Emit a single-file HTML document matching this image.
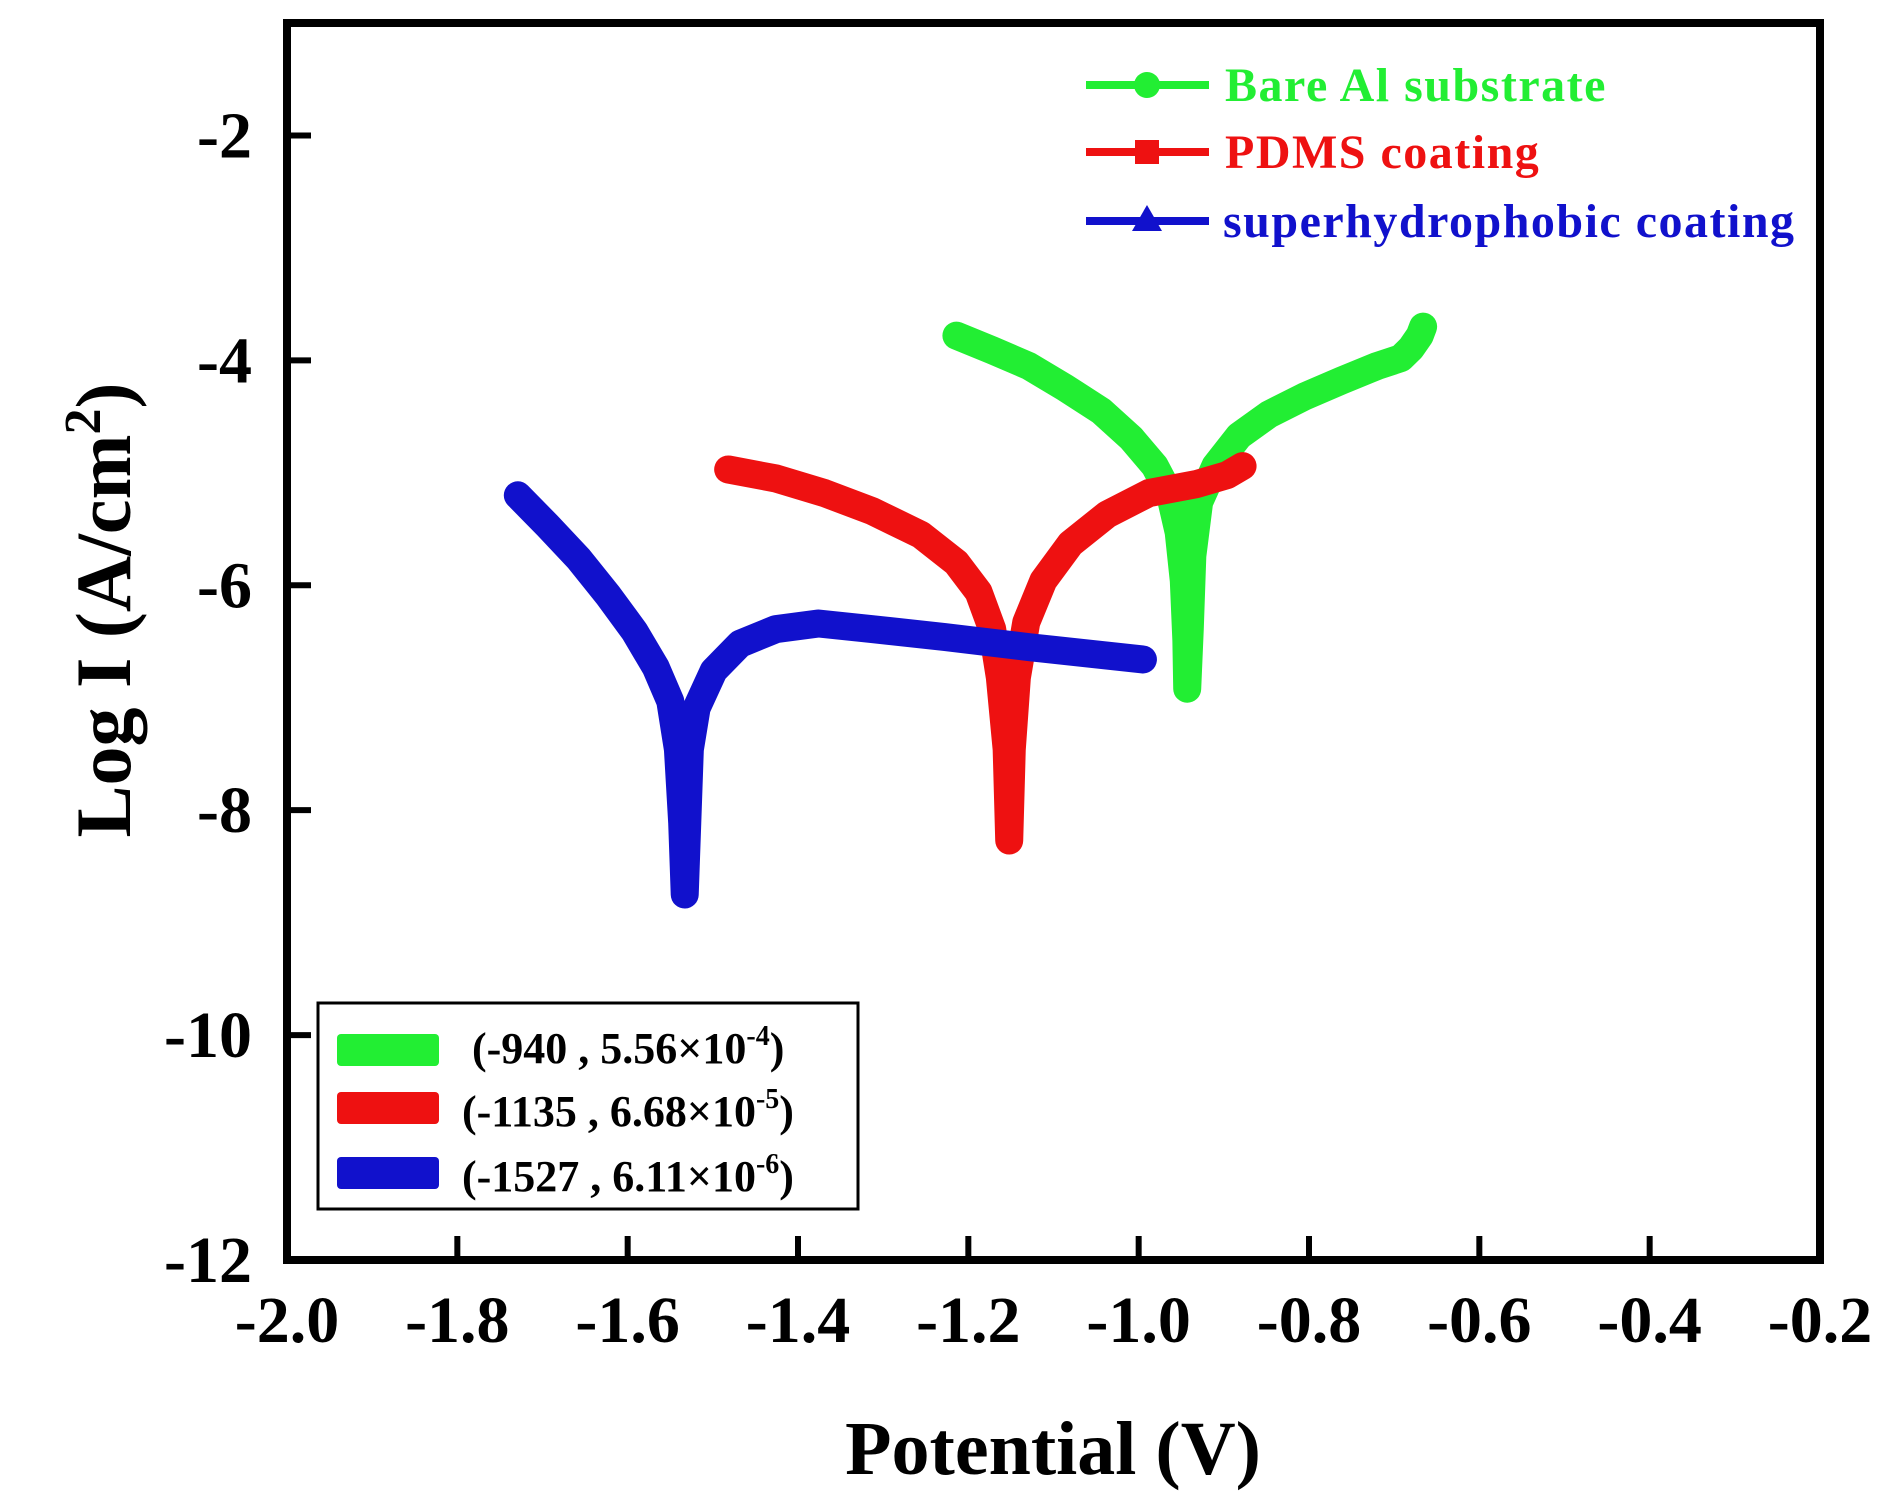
<!DOCTYPE html>
<html><head><meta charset="utf-8"><style>
html,body{margin:0;padding:0;background:#fff;}
svg text{font-family:"Liberation Serif",serif;font-weight:bold;}
</style></head><body>
<svg id="chart" width="1895" height="1499" viewBox="0 0 1895 1499" xmlns="http://www.w3.org/2000/svg">
<g id="series"></g>
<rect x="287" y="23" width="1533" height="1237" fill="none" stroke="#000" stroke-width="8"/>
<g id="axes"></g>
<text x="1053" y="1474" font-size="76" text-anchor="middle">Potential (V)</text>
<text transform="translate(130,610) rotate(-90)" font-size="78" text-anchor="middle">Log I (A/cm<tspan font-size="52" dy="-30">2</tspan><tspan dy="30">)</tspan></text>
<g>
 <line x1="1086" y1="85" x2="1209" y2="85" stroke="#22ee33" stroke-width="8"/><circle cx="1147" cy="85" r="13" fill="#22ee33"/>
 <text x="1225" y="101" font-size="48" letter-spacing="1.5" fill="#22ee33">Bare Al substrate</text>
 <line x1="1086" y1="152" x2="1209" y2="152" stroke="#ee1111" stroke-width="8"/><rect x="1135" y="140" width="24" height="24" fill="#ee1111"/>
 <text x="1225" y="168" font-size="48" letter-spacing="1.5" fill="#ee1111">PDMS coating</text>
 <line x1="1086" y1="221" x2="1209" y2="221" stroke="#1111cc" stroke-width="8"/><polygon points="1147,205 1162,231 1132,231" fill="#1111cc"/>
 <text x="1223" y="237" font-size="48" letter-spacing="1.5" fill="#1111cc">superhydrophobic coating</text>
</g>
<g>
 <rect x="318" y="1003" width="540" height="206" fill="#fff" stroke="#000" stroke-width="3"/>
 <rect x="337" y="1034" width="102" height="32" rx="4" fill="#22ee33"/>
 <rect x="337" y="1092" width="102" height="32" rx="4" fill="#ee1111"/>
 <rect x="337" y="1157" width="102" height="32" rx="4" fill="#1111cc"/>
 <text x="472" y="1063" font-size="44">(-940 , 5.56×10<tspan font-size="28" dy="-18">-4</tspan><tspan dy="18">)</tspan></text>
 <text x="462" y="1126" font-size="44">(-1135 , 6.68×10<tspan font-size="28" dy="-18">-5</tspan><tspan dy="18">)</tspan></text>
 <text x="462" y="1191" font-size="44">(-1527 , 6.11×10<tspan font-size="28" dy="-18">-6</tspan><tspan dy="18">)</tspan></text>
</g>
</svg>
<script>
const xTicks = [-2.0,-1.8,-1.6,-1.4,-1.2,-1.0,-0.8,-0.6,-0.4,-0.2];
const yTicks = [-12,-10,-8,-6,-4,-2];
const bareX = [-1.214,-1.172,-1.129,-1.087,-1.044,-1.009,-0.981,-0.963,-0.953,-0.947,-0.944,-0.943,-0.940,-0.937,-0.929,-0.910,-0.882,-0.847,-0.805,-0.762,-0.720,-0.692,-0.680,-0.670,-0.666];
const bareY = [-3.78,-3.91,-4.05,-4.24,-4.45,-4.69,-4.94,-5.20,-5.53,-5.96,-6.49,-6.92,-6.39,-5.74,-5.26,-4.94,-4.67,-4.48,-4.32,-4.18,-4.05,-3.98,-3.89,-3.78,-3.70];
const pdmsX = [-1.482,-1.426,-1.369,-1.313,-1.256,-1.214,-1.188,-1.172,-1.163,-1.155,-1.152,-1.149,-1.143,-1.132,-1.112,-1.080,-1.037,-0.988,-0.932,-0.896,-0.878];
const pdmsY = [-4.97,-5.05,-5.18,-5.34,-5.55,-5.80,-6.06,-6.39,-6.82,-7.46,-8.27,-7.46,-6.82,-6.33,-5.96,-5.63,-5.37,-5.18,-5.10,-5.02,-4.94];
const shX = [-1.729,-1.694,-1.658,-1.623,-1.592,-1.567,-1.550,-1.541,-1.536,-1.533,-1.530,-1.527,-1.519,-1.499,-1.468,-1.426,-1.376,-1.313,-1.228,-1.129,-0.995];
const shY = [-5.20,-5.47,-5.76,-6.09,-6.41,-6.73,-7.03,-7.46,-8.11,-8.75,-8.11,-7.46,-7.09,-6.76,-6.52,-6.39,-6.34,-6.39,-6.46,-6.55,-6.66];
const NS='http://www.w3.org/2000/svg';
const X0=287,X1=1820,Y0=1260,Y1=23;
function sx(v){return X0+(v-(-2.0))/(1.8)*(X1-X0);}
function sy(v){return Y0-(v-(-12))/(11)*(Y0-Y1);}
const axes=document.getElementById('axes');
xTicks.forEach(t=>{
  const l=document.createElementNS(NS,'line');
  
  
  l.setAttribute('x1',sx(t));l.setAttribute('x2',sx(t));l.setAttribute('y1',Y0);l.setAttribute('y2',Y0-24);
  l.setAttribute('stroke','#000');l.setAttribute('stroke-width','6');axes.appendChild(l);
  const tx=document.createElementNS(NS,'text');
  
  
  tx.setAttribute('x',sx(t));tx.setAttribute('y',1342);tx.setAttribute('font-size','66');tx.setAttribute('text-anchor','middle');
  tx.textContent=t.toFixed(1);axes.appendChild(tx);
});
yTicks.forEach(t=>{
  const l=document.createElementNS(NS,'line');
  
  
  l.setAttribute('x1',X0);l.setAttribute('x2',X0+24);l.setAttribute('y1',sy(t));l.setAttribute('y2',sy(t));
  l.setAttribute('stroke','#000');l.setAttribute('stroke-width','6');axes.appendChild(l);
  const tx=document.createElementNS(NS,'text');
  
  
  tx.setAttribute('x',252);tx.setAttribute('y',sy(t)+22);tx.setAttribute('font-size','66');tx.setAttribute('text-anchor','end');
  tx.textContent=String(t);axes.appendChild(tx);
});
const g=document.getElementById('series');
function draw(xs,ys,color,name){
  const p=document.createElementNS(NS,'polyline');
  
  
  p.setAttribute('points',xs.map((x,i)=>sx(x)+','+sy(ys[i])).join(' '));
  p.setAttribute('fill','none');p.setAttribute('stroke',color);p.setAttribute('stroke-width','28');
  p.setAttribute('stroke-linejoin','round');p.setAttribute('stroke-linecap','round');
  g.appendChild(p);
}
draw(bareX,bareY,'#22ee33','bare-al-curve');
draw(pdmsX,pdmsY,'#ee1111','pdms-curve');
draw(shX,shY,'#1111cc','superhydrophobic-curve');
</script>
</body></html>
